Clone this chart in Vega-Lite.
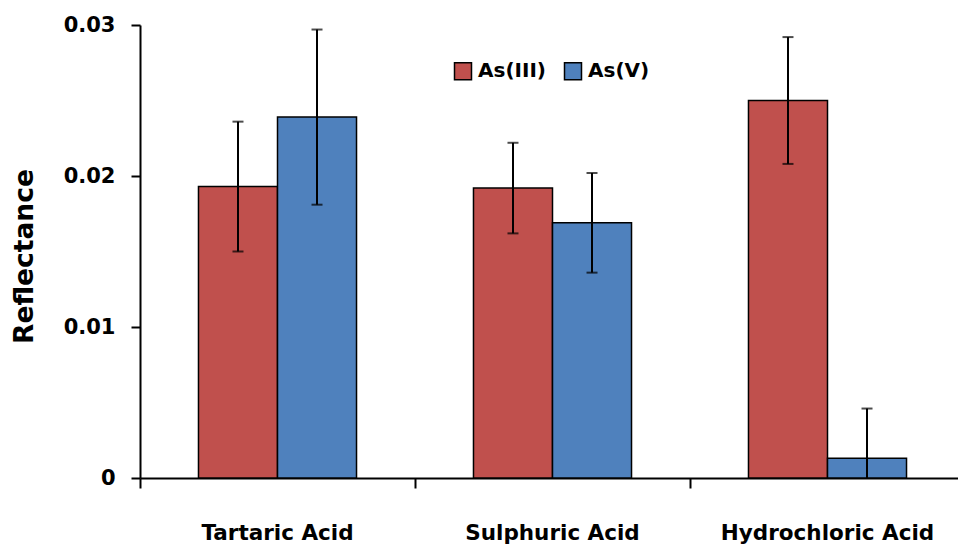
{
  "$schema": "https://vega.github.io/schema/vega-lite/v6.json",
  "width": 818,
  "height": 453,
  "autosize": {"type": "none"},
  "padding": {"left": 140, "top": 25, "right": 0, "bottom": 68},
  "background": "white",
  "config": {
    "view": {"stroke": null},
    "font": "DejaVu Sans",
    "axis": {"grid": false, "domainColor": "black", "domainWidth": 2, "tickColor": "black", "tickWidth": 2, "labelColor": "black", "titleColor": "black", "labelFont": "DejaVu Sans", "titleFont": "DejaVu Sans"},
    "legend": {"labelFont": "DejaVu Sans"}
  },
  "data": {
    "values": [
      {"acid": "Tartaric Acid", "species": "As(III)", "value": 0.0193, "hi": 0.0236, "lo": 0.0150},
      {"acid": "Tartaric Acid", "species": "As(V)", "value": 0.0239, "hi": 0.0297, "lo": 0.0181},
      {"acid": "Sulphuric Acid", "species": "As(III)", "value": 0.0192, "hi": 0.0222, "lo": 0.0162},
      {"acid": "Sulphuric Acid", "species": "As(V)", "value": 0.0169, "hi": 0.0202, "lo": 0.0136},
      {"acid": "Hydrochloric Acid", "species": "As(III)", "value": 0.0250, "hi": 0.0292, "lo": 0.0208},
      {"acid": "Hydrochloric Acid", "species": "As(V)", "value": 0.0013, "hi": 0.0046, "lo": -0.0020}
    ]
  },
  "encoding": {
    "x": {
      "field": "acid", "type": "nominal", "sort": null,
      "scale": {"range": [0, 825], "paddingInner": 0, "paddingOuter": 0},
      "axis": {"title": null, "labelAngle": 0, "labelFontSize": 21.5, "labelFontWeight": "bold", "labelLimit": 0, "bandPosition": 0, "tickSize": 10, "labelPadding": 34, "domainColor": "black"}
    },
    "xOffset": {
      "field": "species", "type": "nominal", "sort": ["As(III)", "As(V)"],
      "scale": {"paddingInner": 0, "paddingOuter": 0.74}
    }
  },
  "layer": [
    {
      "mark": {"type": "bar", "stroke": "black", "strokeWidth": 1.5},
      "encoding": {
        "y": {
          "field": "value", "type": "quantitative",
          "scale": {"domain": [0, 0.03], "nice": false, "zero": true},
          "axis": {"values": [0, 0.01, 0.02, 0.03], "format": "~g", "title": "Reflectance", "titleFontSize": 26.5, "titleFontWeight": "bold", "titlePadding": 25, "titleY": 231, "labelFontSize": 21, "labelFontWeight": "bold", "tickSize": 9, "labelPadding": 16}
        },
        "color": {
          "field": "species", "type": "nominal", "sort": ["As(III)", "As(V)"],
          "scale": {"domain": ["As(III)", "As(V)"], "range": ["#C0504D", "#4F81BD"]},
          "legend": {
            "title": null, "orient": "none", "legendX": 313, "legendY": 36, "direction": "horizontal",
            "symbolType": "square", "symbolSize": 289, "symbolStrokeColor": "black", "symbolStrokeWidth": 1.5, "symbolOpacity": 1,
            "labelFontSize": 20, "labelFontWeight": "bold", "labelColor": "black", "columnPadding": 15, "labelOffset": 5
          }
        }
      }
    },
    {
      "mark": {"type": "rule", "color": "black", "strokeWidth": 2, "clip": true},
      "encoding": {
        "y": {"field": "lo", "type": "quantitative"},
        "y2": {"field": "hi"}
      }
    },
    {
      "mark": {"type": "tick", "color": "black", "thickness": 2, "size": 11, "clip": true},
      "encoding": {
        "y": {"field": "hi", "type": "quantitative"}
      }
    },
    {
      "mark": {"type": "tick", "color": "black", "thickness": 2, "size": 11, "clip": true},
      "encoding": {
        "y": {"field": "lo", "type": "quantitative"}
      }
    }
  ]
}
